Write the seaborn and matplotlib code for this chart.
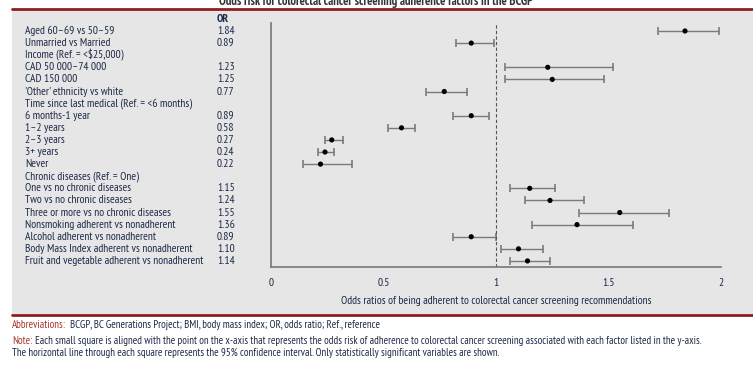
import numpy as np
import pandas as pd
import seaborn as sns
import matplotlib.pyplot as plt
from matplotlib.patches import Rectangle
import matplotlib.transforms as mtransforms

# rows of the forest plot (headers have no estimate)
labels = ['Aged 60\u201369 vs 50\u201359', 'Unmarried vs Married', 'Income (Ref. = <$25,000)',
          'CAD 50 000\u201374 000', 'CAD 150 000', "'Other' ethnicity vs white",
          'Time since last medical (Ref. = <6 months)', '6 months-1 year', '1\u20132 years',
          '2\u20133 years', '3+ years', 'Never', 'Chronic diseases (Ref. = One)',
          'One vs no chronic diseases', 'Two vs no chronic diseases',
          'Three or more vs no chronic diseases', 'Nonsmoking adherent vs nonadherent',
          'Alcohol adherent vs nonadherent', 'Body Mass Index adherent vs nonadherent',
          'Fruit and vegetable adherent vs nonadherent']
odds = [1.84, 0.89, np.nan, 1.23, 1.25, 0.77, np.nan, 0.89, 0.58, 0.27, 0.24, 0.22, np.nan,
        1.15, 1.24, 1.55, 1.36, 0.89, 1.10, 1.14]
ci_low = [1.72, 0.82, np.nan, 1.04, 1.04, 0.69, np.nan, 0.81, 0.52, 0.24, 0.21, 0.14, np.nan,
          1.06, 1.13, 1.37, 1.16, 0.81, 1.02, 1.06]
ci_high = [1.99, 0.99, np.nan, 1.52, 1.48, 0.87, np.nan, 0.97, 0.64, 0.32, 0.28, 0.36, np.nan,
           1.26, 1.39, 1.77, 1.61, 1.00, 1.21, 1.24]
or_text = ['1.84', '0.89', '', '1.23', '1.25', '0.77', '', '0.89', '0.58', '0.27', '0.24',
           '0.22', '', '1.15', '1.24', '1.55', '1.36', '0.89', '1.10', '1.14']

df = pd.DataFrame({'label': labels, 'or': odds, 'lo': ci_low, 'hi': ci_high})
df['row'] = np.arange(len(df))

sns.set_style('white')
plt.rcParams['font.family'] = ['PT Sans Narrow', 'DejaVu Sans']

navy = '#1c2a48'
dred = '#8e1f1f'
fs = 8.3
W, H = 753, 365
fig = plt.figure(figsize=(W / 100, H / 100), dpi=100)

# grey panel and red rules
fig.patches.append(Rectangle((12 / W, 1 - 315 / H), 1, (315 - 9) / H, transform=fig.transFigure,
                             facecolor='#e6e6e6', edgecolor='none', zorder=-5))
fig.add_artist(plt.Line2D([12 / W, 1], [1 - 9 / H] * 2, color=dred, lw=2))
fig.add_artist(plt.Line2D([12 / W, 1], [1 - 315 / H] * 2, color=dred, lw=2))
fig.text(376 / W, 1 - 1 / H, 'Odds risk for colorectal cancer screening adherence factors in the BCGP',
         ha='center', va='center', fontsize=9, fontweight='bold', color='#333333')

ax = fig.add_axes([271 / W, 1 - 267 / H, 450 / W, (267 - 23) / H])
ax.patch.set_alpha(0)

d = df.dropna()
ax.errorbar(d['or'], d['row'], xerr=[d['or'] - d['lo'], d['hi'] - d['or']], fmt='none',
            ecolor='#7a7a7a', elinewidth=1, capsize=3, capthick=1.2)
sns.scatterplot(data=d, x='or', y='row', color='black', s=14, edgecolor='none', zorder=3, ax=ax)
ax.axvline(1, color='#555555', lw=0.8, ls=(0, (3, 2)))

ax.set_xlim(0, 2)
ax.set_ylim(19.5, -0.66)
ax.set_xticks([0, 0.5, 1, 1.5, 2])
ax.set_xticklabels(['0', '0.5', '1', '1.5', '2'])
ax.set_yticks([])
ax.set_ylabel('')
ax.set_xlabel('Odds ratios of being adherent to colorectal cancer screening recommendations',
              fontsize=fs, color=navy, labelpad=6)
ax.tick_params(axis='x', direction='in', length=5, color='#777777', labelsize=fs,
               labelcolor=navy, pad=8)
for s in ['top', 'right']:
    ax.spines[s].set_visible(False)
for s in ['left', 'bottom']:
    ax.spines[s].set_color('#777777')
    ax.spines[s].set_linewidth(1.2)

trans = mtransforms.blended_transform_factory(fig.transFigure, ax.transData)
for i, (lab, o) in enumerate(zip(labels, or_text)):
    ax.text(25 / W, i, lab, transform=trans, ha='left', va='center', fontsize=fs, color=navy)
    ax.text(217 / W, i, o, transform=trans, ha='left', va='center', fontsize=fs, color=navy)
ax.text(217 / W, -1, 'OR', transform=trans, ha='left', va='center', fontsize=fs, color=navy,
        fontweight='bold')

# footnotes
fs2 = 7.8
t = fig.text(12 / W, 1 - 325 / H, 'Abbreviations:', color='#a8332f', fontsize=fs2, va='center')
fig.text(70 / W, 1 - 325 / H, 'BCGP, BC Generations Project; BMI, body mass index; OR, odds ratio; Ref., reference',
         color=navy, fontsize=fs2, va='center')
fig.text(12 / W, 1 - 341 / H, 'Note:', color='#a8332f', fontsize=fs2, va='center')
fig.text(35 / W, 1 - 341 / H, 'Each small square is aligned with the point on the x-axis that represents the odds risk of adherence to colorectal cancer screening associated with each factor listed in the y-axis.',
         color=navy, fontsize=fs2, va='center')
fig.text(12 / W, 1 - 353 / H, 'The horizontal line through each square represents the 95% confidence interval. Only statistically significant variables are shown.',
         color=navy, fontsize=fs2, va='center')

fig.savefig('out.png', dpi=100)
